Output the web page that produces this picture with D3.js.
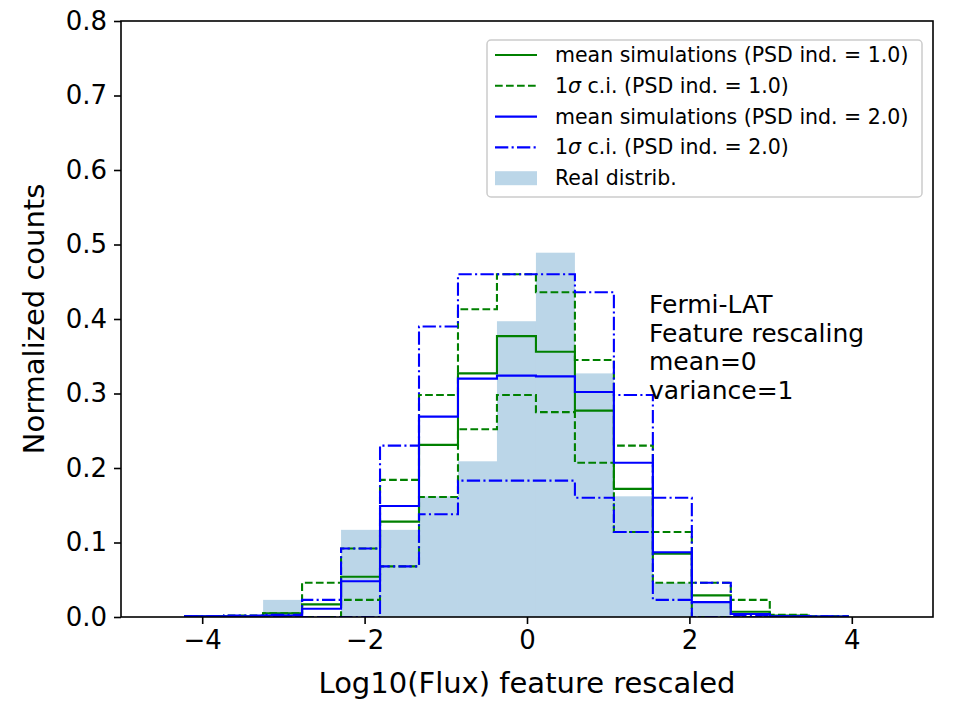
<!DOCTYPE html>
<html><head><meta charset="utf-8">
<script src="https://cdn.jsdelivr.net/npm/d3@7"></script>
<style>body{margin:0;background:#fff}svg{display:block}text{font-family:"DejaVu Sans",sans-serif}</style>
</head><body>
<svg id="c" width="960" height="720"></svg>
<script>
// bin edges (Log10 flux rescaled)
const edges = [-4.21,-3.73,-3.25,-2.77,-2.29,-1.81,-1.33,-0.85,-0.37,0.11,0.59,1.07,1.55,2.03,2.51,2.99,3.47,3.95];
// real distribution (normalized counts)
const realDistrib = [0,0,0.023,0,0.117,0.117,0.162,0.209,0.397,0.489,0.327,0.162,0.046,0.020,0,0.002,0];
// PSD index 1.0
const meanPSD1 = [0.001,0.001,0.005,0.017,0.054,0.128,0.231,0.327,0.377,0.356,0.277,0.172,0.085,0.029,0.007,0.002,0.0005];
const upperPSD1 = [0.001,0.002,0.005,0.046,0.092,0.184,0.298,0.413,0.460,0.436,0.345,0.230,0.114,0.046,0.023,0.003,0.001];
const lowerPSD1 = [0,0,0,0,0.023,0.068,0.161,0.252,0.298,0.275,0.207,0.114,0.046,0,0,0,0];
// PSD index 2.0
const meanPSD2 = [0.001,0.001,0.002,0.011,0.048,0.149,0.269,0.320,0.324,0.323,0.302,0.207,0.087,0.020,0.004,0.001,0.0005];
const upperPSD2 = [0.001,0.002,0.003,0.023,0.092,0.230,0.390,0.460,0.460,0.460,0.436,0.298,0.160,0.046,0.002,0.001,0.001];
const lowerPSD2 = [0,0,0,0,0,0.068,0.138,0.183,0.183,0.183,0.160,0.114,0.023,0,0,0,0];

const xTicks = [-4,-2,0,2,4];
const yTicks = [0,0.1,0.2,0.3,0.4,0.5,0.6,0.7,0.8];
const legendLabels = ["mean simulations (PSD ind. = 1.0)","1σ c.i. (PSD ind. = 1.0)","mean simulations (PSD ind. = 2.0)","1σ c.i. (PSD ind. = 2.0)","Real distrib."];
const annotation = ["Fermi-LAT","Feature rescaling","mean=0","variance=1"];

const L=121, R=933, T=21, B=617;
const svg = d3.select("#c");
const x = d3.scaleLinear().domain([-5,5]).range([L,R]);
const y = d3.scaleLinear().domain([0,0.8]).range([B,T]);

const defs = svg.append("defs");
defs.append("clipPath").attr("id","clip").append("rect").attr("x",L).attr("y",T).attr("width",R-L).attr("height",B-T);
const plot = svg.append("g").attr("clip-path","url(#clip)");

// real distribution bars
plot.selectAll("rect.real").data(realDistrib.map((v,i)=>({v,i})).filter(d=>d.v>0)).enter()
  .append("rect").attr("class","real")
  .attr("x",d=>x(edges[d.i])).attr("width",d=>x(edges[d.i+1])-x(edges[d.i]))
  .attr("y",d=>y(d.v)).attr("height",d=>y(0)-y(d.v))
  .attr("fill","#1f77b4").attr("fill-opacity",0.3);

function stepPts(vals){
  const pts=[[edges[0],0]];
  vals.forEach((v,i)=>{pts.push([edges[i],v]);pts.push([edges[i+1],v]);});
  pts.push([edges[edges.length-1],0]);
  return pts;
}
const line = d3.line().x(d=>x(d[0])).y(d=>y(d[1]));
const series = [
  {vals:meanPSD1,color:"#008000",dash:null},
  {vals:upperPSD1,color:"#008000",dash:"7.7,3.3"},
  {vals:lowerPSD1,color:"#008000",dash:"7.7,3.3"},
  {vals:meanPSD2,color:"#0000ff",dash:null},
  {vals:upperPSD2,color:"#0000ff",dash:"13.3,3.3,2.1,3.3"},
  {vals:lowerPSD2,color:"#0000ff",dash:"13.3,3.3,2.1,3.3"}
];
series.forEach(s=>{
  plot.append("path").attr("d",line(stepPts(s.vals))).attr("fill","none")
    .attr("stroke",s.color).attr("stroke-width",2.1)
    .attr("stroke-dasharray",s.dash).attr("stroke-linejoin","miter");
});

// axes
const xAxis = d3.axisBottom(x).tickValues(xTicks).tickSize(7).tickPadding(7).tickFormat(d=>d<0?"\u2212"+Math.abs(d):d);
const gx = svg.append("g").attr("transform",`translate(0,${B})`).call(xAxis);
const yAxis = d3.axisLeft(y).tickValues(yTicks).tickSize(7).tickPadding(7).tickFormat(d3.format(".1f"));
const gy = svg.append("g").attr("transform",`translate(${L},0)`).call(yAxis);
[gx,gy].forEach(g=>{
  g.select(".domain").remove();
  g.selectAll(".tick line").attr("stroke","#000").attr("stroke-width",1.6);
  g.selectAll(".tick text").attr("font-size",26).attr("fill","#000").attr("font-family","DejaVu Sans");
});
gx.selectAll(".tick text").attr("dy","0.71em");
svg.append("rect").attr("x",L).attr("y",T).attr("width",R-L).attr("height",B-T)
  .attr("fill","none").attr("stroke","#000").attr("stroke-width",1.6);

// axis labels
svg.append("text").attr("x",(L+R)/2).attr("y",693).attr("text-anchor","middle").attr("font-size",29).text("Log10(Flux) feature rescaled");
svg.append("text").attr("transform",`translate(44,${(T+B)/2}) rotate(-90)`).attr("text-anchor","middle").attr("font-size",29).text("Normalized counts");

// annotation
annotation.forEach((t,i)=>{
  svg.append("text").attr("x",649).attr("y",313+i*28.5).attr("font-size",25).text(t);
});

// legend
const lg = svg.append("g");
lg.append("rect").attr("x",487).attr("y",40).attr("width",435).attr("height",157).attr("rx",4)
  .attr("fill","#fff").attr("fill-opacity",0.8).attr("stroke","#cccccc").attr("stroke-width",1.5);
const legendStyles = [
  {type:"line",color:"#008000",dash:null},
  {type:"line",color:"#008000",dash:"7.7,3.3"},
  {type:"line",color:"#0000ff",dash:null},
  {type:"line",color:"#0000ff",dash:"13.3,3.3,2.1,3.3"},
  {type:"patch"}
];
legendLabels.forEach((lab,i)=>{
  const cy = 55 + i*30.8;
  const st = legendStyles[i];
  if(st.type==="line"){
    lg.append("line").attr("x1",495).attr("x2",537).attr("y1",cy).attr("y2",cy)
      .attr("stroke",st.color).attr("stroke-width",2.1).attr("stroke-dasharray",st.dash);
  } else {
    lg.append("rect").attr("x",495).attr("y",cy-7).attr("width",42).attr("height",14)
      .attr("fill","#1f77b4").attr("fill-opacity",0.3);
  }
  const t = lg.append("text").attr("x",555).attr("y",cy+7).attr("font-size",20.5);
  if(lab.indexOf("σ")>=0){
    const parts = lab.split("σ");
    t.append("tspan").text(parts[0]);
    t.append("tspan").attr("font-style","italic").text("σ");
    t.append("tspan").text(parts[1]);
  } else t.text(lab);
});
</script>
</body></html>
